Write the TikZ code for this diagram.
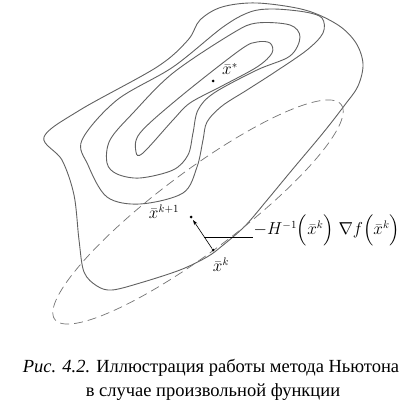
\documentclass[tikz,border=0pt]{standalone}
\usepackage{amsmath}
\usepackage{fontspec}
\setmainfont{Liberation Serif}
\usetikzlibrary{calc,arrows.meta}
\begin{document}
\begin{tikzpicture}[x=1pt,y=-1pt,
  contour/.style={draw=black!62, line width=0.9pt},
  dashell/.style={draw=black!55, line width=0.7pt, dash pattern=on 9pt off 5pt},
  pt/.style={circle, fill=black, inner sep=0pt, minimum size=3pt},
  lbl/.style={inner sep=0.5pt, font=\fontsize{16}{18}\selectfont},
  captext/.style={inner sep=0pt, font=\fontsize{18.5}{22}\selectfont}]
\useasboundingbox (0,0) rectangle (417,406);
% contour 1 (outer)
\draw[contour] plot[smooth cycle, tension=0.55] coordinates {
 (44,137) (62,160) (74,195) (79,240) (84,272) (97,286) (112,290) (140,283)
 (180,270) (207,257) (222,246) (245,226) (268,199) (292,170) (323,133)
 (344,106) (358,86) (363,64) (356,43) (338,25) (305,10) (257,3) (222,7)
 (200,20) (188,40) (157,67) (80,110)};
% contour 2
\draw[contour] plot[smooth cycle, tension=0.55] coordinates {
 (82,140) (88,165) (107,197) (140,204) (183,193) (197,167) (203,140)
 (207,122) (222,106) (247,90) (275,72) (307,50) (323,33) (322,18) (305,12)
 (273,9) (250,12) (223,27) (173,67) (117,100)};
% contour 3
\draw[contour] plot[smooth cycle, tension=0.55] coordinates {
 (107,163) (117,174) (140,178) (173,170) (188,155) (193,133) (198,110)
 (214,93) (257,70) (290,56) (300,37) (290,25) (257,23) (233,33) (173,73)
 (133,113) (110,140)};
% contour 4 (inner)
\draw[contour] plot[smooth cycle, tension=0.55] coordinates {
 (136,152) (143,153) (173,120) (190,103) (220,87) (257,67) (272,53)
 (270,43) (257,42) (240,50) (180,97) (140,133)};
% dashed ellipse
\draw[dashell] plot[domain=0:360, samples=140, smooth]
 ({198+179*0.8*cos(\x)+40*0.6*sin(\x)},{212-179*0.6*cos(\x)+40*0.8*sin(\x)});
% points
\node[pt] (xs) at (213,81) {};
\node[pt] (xk) at (213,250) {};
\node[pt] (xk1) at (191,217) {};
\node[lbl] (xslab) at (230,69) {$\bar{x}^{*}$};
\node[lbl] (xklab) at (221,265) {$\bar{x}^{k}$};
\node[lbl] (xk1lab) at (164,212) {$\bar{x}^{k+1}$};
% Newton step
\draw[black, line width=0.6pt, -{Stealth[length=5pt,width=3.5pt]}, shorten >=2pt] (xk) -- (xk1);
\coordinate (lead) at ($(xk)!0.39!(xk1)$);
\node[lbl, anchor=west] (step) at (253,230) {$-H^{-1}\Bigl(\bar{x}^{k}\Bigr)\;\nabla f\Bigl(\bar{x}^{k}\Bigr)$};
\draw[black, line width=0.6pt] (lead) -- (lead -| step.west);
% caption
\node[captext] (cap1) at (211,368) {\textit{Рис. 4.2.} Иллюстрация работы метода Ньютона};
\node[captext] (cap2) at (213,392) {в случае произвольной функции};
\end{tikzpicture}
\end{document}
